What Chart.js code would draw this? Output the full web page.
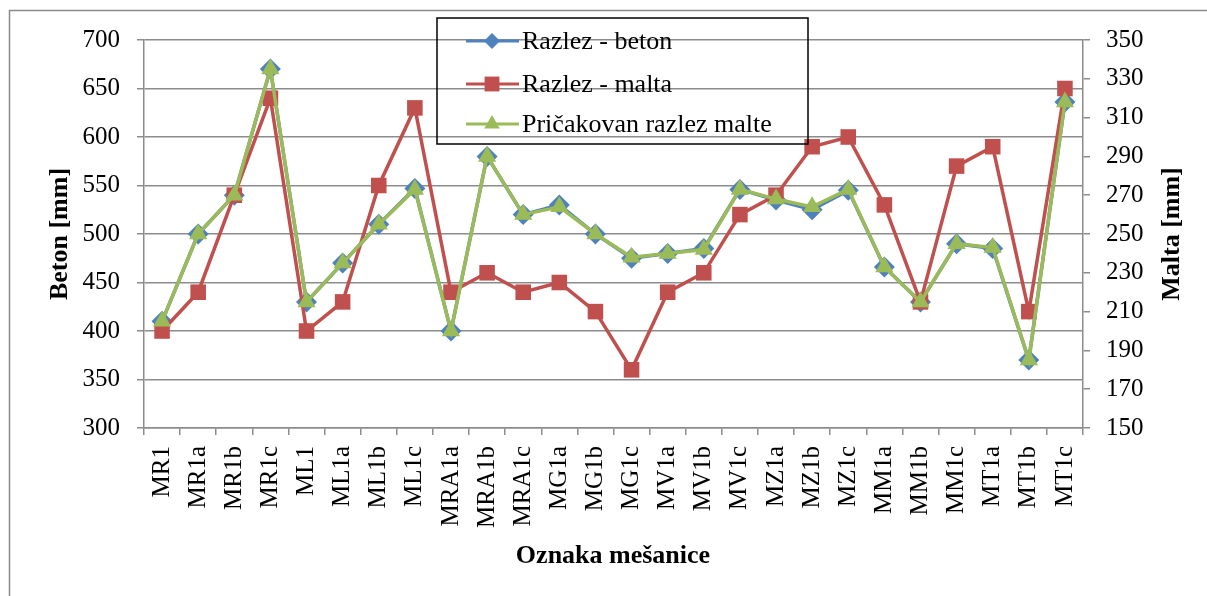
<!DOCTYPE html>
<html lang="sl">
<head>
<meta charset="UTF-8">
<title>Razlez betona in malte</title>
<script src="https://cdn.jsdelivr.net/npm/chart.js@4"></script>
<style>
  html, body { margin: 0; padding: 0; background: #fff; }
</style>
</head>
<body>
<canvas id="myChart" width="1207" height="596"></canvas>
<script>
// mixtures on the x axis
const labels = ['MR1', 'MR1a', 'MR1b', 'MR1c', 'ML1', 'ML1a', 'ML1b', 'ML1c',
  'MRA1a', 'MRA1b', 'MRA1c', 'MG1a', 'MG1b', 'MG1c', 'MV1a', 'MV1b', 'MV1c',
  'MZ1a', 'MZ1b', 'MZ1c', 'MM1a', 'MM1b', 'MM1c', 'MT1a', 'MT1b', 'MT1c'];

// left axis (Beton [mm])
const betonValues = [410, 500, 540, 670, 430, 470, 510, 547, 400, 580, 520, 530, 500,
  475, 480, 485, 546, 535, 525, 545, 466, 430, 490, 485, 370, 636];

// right axis (Malta [mm])
const maltaValues = [200, 220, 270, 320, 200, 215, 275, 315, 220, 230, 220, 225, 210,
  180, 220, 230, 260, 270, 295, 300, 265, 215, 285, 295, 210, 325];
const expectedMalta = [205, 250, 270, 335, 215, 235, 255, 273, 200, 290, 260, 264, 250,
  238, 240, 242, 273, 268, 264, 273, 233, 215, 245, 243, 185, 318];

const seriesNames = ['Razlez - beton', 'Razlez - malta', 'Pričakovan razlez malte'];
const seriesColors = ['#4F81BD', '#C0504D', '#9BBB59'];
const seriesMarkers = ['rectRot', 'rect', 'triangle'];
const markerSizes = [10.5, 11, 10.5];
const legendMarkerSizes = [8, 10.5, 9];

const gridColor = '#8c8c8c';
const serif = "'Liberation Serif', 'Times New Roman', serif";

const decorations = {
  id: 'decorations',
  beforeDraw(chart) {
    const ctx = chart.ctx;
    ctx.save();
    ctx.fillStyle = '#fff';
    ctx.fillRect(0, 0, chart.width, chart.height);
    ctx.strokeStyle = '#8a8a8a';
    ctx.lineWidth = 1.5;
    ctx.strokeRect(9.5, 10.5, 1200, 600);
    ctx.restore();
  },
  afterDraw(chart) {
    const ctx = chart.ctx;
    const area = chart.chartArea;
    const midY = (area.top + area.bottom) / 2;
    ctx.save();
    ctx.fillStyle = '#000';
    ctx.font = 'bold 26px ' + serif;
    ctx.textAlign = 'center';
    ctx.textBaseline = 'middle';
    // axis titles
    ctx.save();
    ctx.translate(60, midY);
    ctx.rotate(-Math.PI / 2);
    ctx.fillText('Beton [mm]', 0, 0);
    ctx.restore();
    ctx.save();
    ctx.translate(1172, midY);
    ctx.rotate(-Math.PI / 2);
    ctx.fillText('Malta [mm]', 0, 0);
    ctx.restore();
    ctx.fillText('Oznaka mešanice', 613, 556);

    // legend box (transparent, grid shows through)
    ctx.strokeStyle = '#000';
    ctx.lineWidth = 1.5;
    ctx.strokeRect(437, 18, 371, 126);
    const rows = [41, 84, 124];
    ctx.font = '26px ' + serif;
    ctx.textAlign = 'left';
    seriesNames.forEach((name, i) => {
      const y = rows[i];
      ctx.strokeStyle = seriesColors[i];
      ctx.lineWidth = 3;
      ctx.beginPath();
      ctx.moveTo(466, y);
      ctx.lineTo(519, y);
      ctx.stroke();
      ctx.fillStyle = seriesColors[i];
      Chart.helpers.drawPoint(ctx, {
        pointStyle: seriesMarkers[i], radius: legendMarkerSizes[i], borderWidth: 0, rotation: 0
      }, 492, y);
      ctx.fillStyle = '#000';
      ctx.fillText(name, 522, y + 1);
    });
    ctx.restore();
  }
};

const ctx = document.getElementById('myChart').getContext('2d');
new Chart(ctx, {
  type: 'line',
  data: {
    labels: labels,
    datasets: [
      { data: betonValues, yAxisID: 'y', order: 3 },
      { data: maltaValues, yAxisID: 'y1', order: 2 },
      { data: expectedMalta, yAxisID: 'y1', order: 1 }
    ].map((d, i) => Object.assign(d, {
      label: seriesNames[i],
      borderColor: seriesColors[i],
      backgroundColor: seriesColors[i],
      pointStyle: seriesMarkers[i],
      pointRadius: markerSizes[i],
      pointBorderWidth: 0,
      borderWidth: 3.5,
      tension: 0,
      fill: false
    }))
  },
  options: {
    responsive: false,
    animation: false,
    devicePixelRatio: 1,
    layout: { padding: { top: 40, left: 0, right: 0, bottom: 0 } },
    plugins: {
      legend: { display: false },
      tooltip: { enabled: false }
    },
    scales: {
      x: {
        offset: true,
        afterFit: s => { s.height = 168; },
        grid: { drawOnChartArea: false, offset: true, tickLength: 7, color: gridColor, lineWidth: 1.5 },
        border: { color: gridColor, width: 1.5 },
        ticks: {
          color: '#000', font: { family: serif, size: 25 },
          minRotation: 90, maxRotation: 90, autoSkip: false, padding: 11
        }
      },
      y: {
        position: 'left',
        min: 300, max: 700,
        afterFit: s => { s.width = 144; },
        grid: { color: gridColor, lineWidth: 1.5, tickLength: 7 },
        border: { color: gridColor, width: 1.5 },
        ticks: { stepSize: 50, color: '#000', font: { family: serif, size: 25 }, padding: 17 }
      },
      y1: {
        position: 'right',
        min: 150, max: 350,
        afterFit: s => { s.width = 124; },
        grid: { drawOnChartArea: false, color: gridColor, lineWidth: 1.5, tickLength: 7 },
        border: { color: gridColor, width: 1.5 },
        ticks: { stepSize: 20, color: '#000', font: { family: serif, size: 25 }, padding: 16 }
      }
    }
  },
  plugins: [decorations]
});
</script>
</body>
</html>
